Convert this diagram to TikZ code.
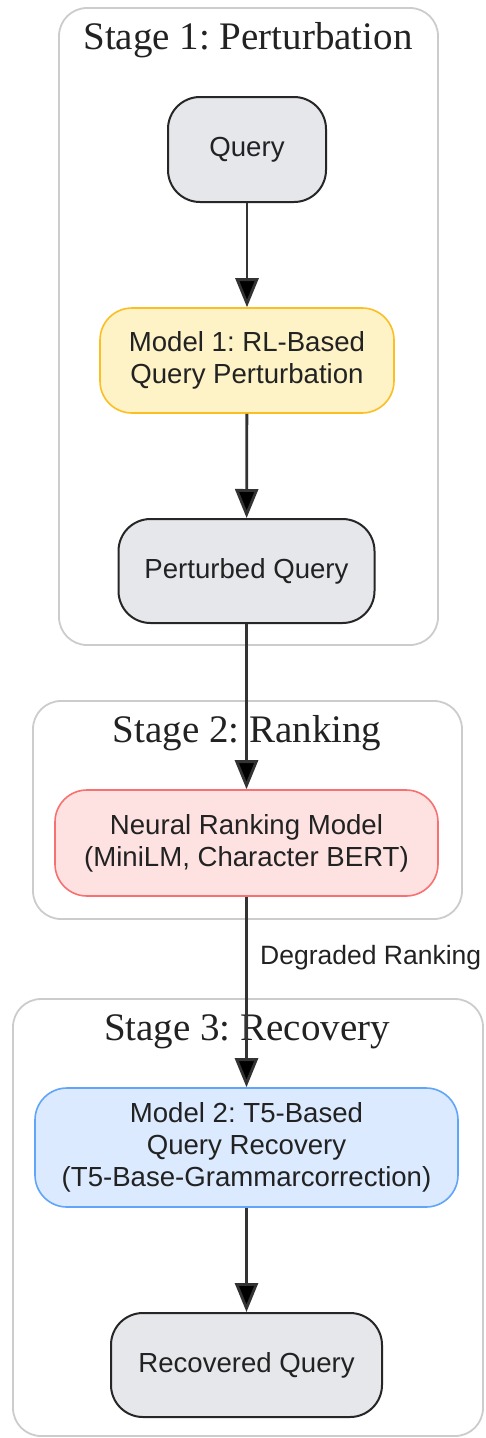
\documentclass[tikz,border=0pt]{standalone}
\usepackage{fontspec}
\setmainfont{Liberation Serif}
\newfontfamily\sansf{Liberation Sans}
\usetikzlibrary{arrows.meta}
\frenchspacing
\definecolor{clusterline}{HTML}{CCCCCC}
\definecolor{greyfill}{HTML}{E5E7EB}
\definecolor{amberfill}{HTML}{FEF3C7}
\definecolor{amberline}{HTML}{FBBF24}
\definecolor{redfill}{HTML}{FEE2E2}
\definecolor{redline}{HTML}{F87171}
\definecolor{bluefill}{HTML}{DBEAFE}
\definecolor{blueline}{HTML}{60A5FA}
\definecolor{inktext}{HTML}{222222}
\tikzset{
  cluster/.style={draw=clusterline, line width=1.8pt, rounded corners=28pt, fill=white},
  clustertitle/.style={font=\fontsize{39}{45}\selectfont, text=inktext, inner sep=0pt},
  stagebox/.style={rounded corners=32pt, line width=2pt, font=\sansf\fontsize{27.6}{32}\selectfont,
    text=inktext, align=center, inner sep=0pt},
  plainbox/.style={stagebox, draw=black!85, fill=greyfill},
  amberbox/.style={stagebox, draw=amberline, fill=amberfill, line width=1.6pt},
  redbox/.style={stagebox, draw=redline, fill=redfill, line width=1.6pt},
  bluebox/.style={stagebox, draw=blueline, fill=bluefill, line width=1.6pt},
  flow/.style={draw=black!80, line width=2.8pt, -{Triangle[length=29pt,width=23pt,fill=black]}},
  edgelabel/.style={font=\sansf\fontsize{26.5}{31}\selectfont, text=inktext, inner sep=0pt}
}
\begin{document}
\begin{tikzpicture}[x=1pt,y=-1pt]
\useasboundingbox (0,0) rectangle (485,1438);
% stage frames
\draw[cluster] (59,8) rectangle (438,645);
\node[clustertitle] (t1) at (248,40) {Stage 1: Perturbation};
\draw[cluster] (33,701) rectangle (462,919);
\node[clustertitle] (t2) at (247,733) {Stage 2: Ranking};
\draw[cluster] (13,999) rectangle (483,1436);
\node[clustertitle] (t3) at (247,1032) {Stage 3: Recovery};
% nodes
\node[plainbox, minimum width=158pt, minimum height=105pt] (query) at (247,149.5) {Query};
\node[amberbox, minimum width=294pt, minimum height=105pt] (m1) at (247,360.5) {Model 1: RL-Based\\Query Perturbation};
\node[plainbox, minimum width=256pt, minimum height=104pt] (pq) at (246.5,571) {Perturbed Query};
\node[redbox, minimum width=383pt, minimum height=106pt] (nrm) at (246.5,843) {Neural Ranking Model\\(MiniLM, Character BERT)};
\node[bluebox, minimum width=423pt, minimum height=119pt] (m2) at (246.5,1147.5) {Model 2: T5-Based\\Query Recovery\\(T5-Base-Grammarcorrection)};
\node[plainbox, minimum width=271pt, minimum height=104pt] (rq) at (246.5,1365) {Recovered Query};
% connectors
\draw[flow] (query) -- (m1);
\draw[flow] (m1) -- (pq);
\draw[flow] (pq) -- (nrm);
\draw[flow] (nrm) -- (m2);
\node[edgelabel, anchor=west] (lbl) at (260,958) {Degraded Ranking};
\draw[flow] (m2) -- (rq);
\end{tikzpicture}
\end{document}
